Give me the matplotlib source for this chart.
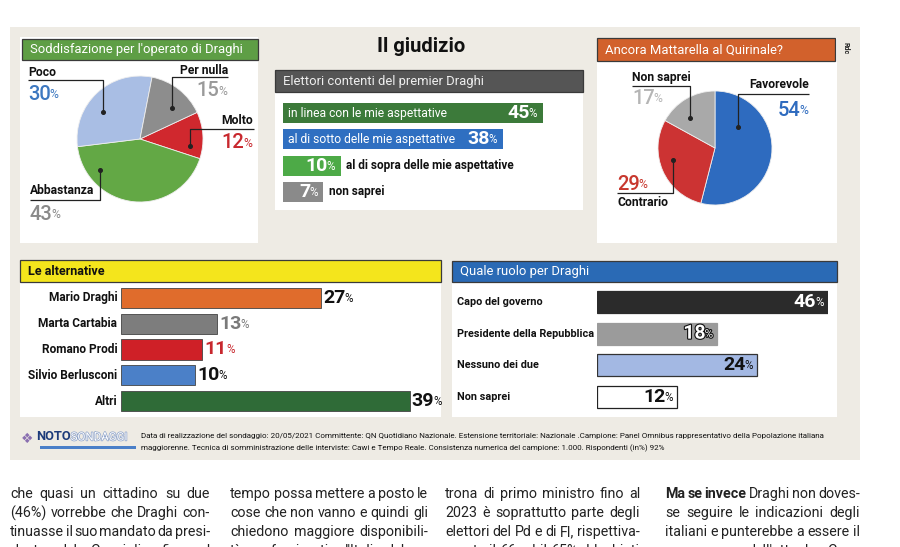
import matplotlib
matplotlib.use('Agg')
import matplotlib.pyplot as plt
import matplotlib.patheffects as pe
from matplotlib.patches import Rectangle
from matplotlib.transforms import blended_transform_factory

plt.rcParams['font.family'] = ['Roboto', 'DejaVu Sans']
NUMFONT = ['Roboto', 'DejaVu Sans']

W, H = 900, 547

# ---- dati ----
sodd_labels = ['Molto', 'Abbastanza', 'Poco', 'Per nulla']
sodd_values = [12, 43, 30, 15]
sodd_colors = ['#d0282e', '#63a845', '#a9bee4', '#8d8d8d']

contenti_labels = ['in linea con le mie aspettative', 'al di sotto delle mie aspettative',
                   'al di sopra delle mie aspettative', 'non saprei']
contenti_values = [45, 38, 10, 7]
contenti_colors = ['#3c7a3a', '#2f6fc1', '#4daa47', '#8a8a8a']

matt_labels = ['Favorevole', 'Contrario', 'Non saprei']
matt_values = [54, 29, 17]
matt_colors = ['#2e6bbf', '#cc3333', '#a9a9a9']

alt_labels = ['Mario Draghi', 'Marta Cartabia', 'Romano Prodi', 'Silvio Berlusconi', 'Altri']
alt_values = [27, 13, 11, 10, 39]
alt_colors = ['#e06c2c', '#7d7d7d', '#cf2027', '#4b80c8', '#2f6b37']
alt_text_colors = ['#111111', '#7a7a7a', '#c8282e', '#111111', '#111111']

ruolo_labels = ['Capo del governo', 'Presidente della Repubblica', 'Nessuno dei due', 'Non saprei']
ruolo_values = [46, 18, 24, 12]
ruolo_colors = ['#2b2b2b', '#9b9b9b', '#a3b8e3', '#ffffff']

note_lines = ['Data di realizzazione del sondaggio: 20/05/2021 Committente: QN Quotidiano Nazionale. '
              'Estensione territoriale: Nazionale .Campione: Panel Omnibus rappresentativo della Popolazione italiana',
              'maggiorenne. Tecnica di somministrazione delle interviste: Cawi e Tempo Reale. '
              'Consistenza numerica del campione: 1.000. Rispondenti (in%) 92%']

article = [
    ['che quasi un cittadino su due', '(46%) vorrebbe che Draghi con-',
     'tinuasse il suo mandato da presi-', 'dente del Consiglio fino al'],
    ['tempo possa mettere a posto le', 'cose che non vanno e quindi gli',
     'chiedono maggiore disponibili-', "tà per far ripartire l'Italia dal po-"],
    ['trona di primo ministro fino al', '2023 è soprattutto parte degli',
     'elettori del Pd e di FI, rispettiva-', 'mente il 66 ed il 65%. I leghisti'],
    ['Ma se invece Draghi non doves-', 'se seguire le indicazioni degli',
     'italiani e punterebbe a essere il', "successore dell'attuale Capo"],
]

fig = plt.figure(figsize=(9, 5.47), dpi=100)
fig.patch.set_facecolor('white')
base = fig.add_axes([0, 0, 1, 1])
base.set_xlim(0, W)
base.set_ylim(H, 0)
base.axis('off')


def px_axes(x0, y0, x1, y1):
    a = fig.add_axes([x0 / W, 1 - y1 / H, (x1 - x0) / W, (y1 - y0) / H])
    a.axis('off')
    return a


def box(x0, y0, x1, y1, fc, ec='none', lw=0, z=1):
    base.add_patch(Rectangle((x0, y0), x1 - x0, y1 - y0, facecolor=fc,
                             edgecolor=ec, linewidth=lw, zorder=z))


def title_bar(x0, y0, x1, y1, fc, text, tc='white', weight='normal', size=9.4):
    box(x0, y0, x1, y1, fc, ec='#3a3a3a', lw=0.9, z=3)
    base.text(x0 + 8, (y0 + y1) / 2 + 0.5, text, color=tc, fontsize=size,
              weight=weight, va='center', ha='left', zorder=4)


def pct(ax, x, y, num, size, color, ha='left', pc_color=None, weight='bold',
        xycoords='data', effects=None):
    pc_color = pc_color or color
    small = size * 0.6
    shift = -small * 0.7 if ha == 'right' else 0
    t = ax.annotate(str(num), xy=(x, y), xycoords=xycoords, xytext=(shift, 0),
                    textcoords='offset points', ha=ha, va='center', fontsize=size,
                    color=color, weight=weight, family=NUMFONT, zorder=8,
                    annotation_clip=False)
    p = ax.annotate('%', xy=(1, 0), xycoords=t, xytext=(-0.7, 1.5),
                    textcoords='offset points', ha='left', va='bottom',
                    fontsize=small, color=pc_color, family=NUMFONT, zorder=8,
                    annotation_clip=False)
    if effects:
        t.set_path_effects(effects)
        p.set_path_effects(effects)
    return t


# sfondo
box(10, 27, 860, 460, '#eeebe4', z=0)
box(20, 37, 258, 243, 'white')
box(275, 70, 583, 210, 'white')
box(597, 38, 837, 243, 'white')
box(20, 260, 441, 417, 'white')
box(452, 261, 837, 417, 'white')

title_bar(22, 39, 258, 60, '#5e9e45', "Soddisfazione per l'operato di Draghi")
title_bar(275, 70, 583, 92, '#555555', 'Elettori contenti del premier Draghi', tc='#eeeeee')
title_bar(597, 38, 835, 61, '#d2612c', 'Ancora Mattarella al Quirinale?')
title_bar(20, 260, 441, 282, '#f4e51c', 'Le alternative', tc='#111111', weight='bold', size=9)
title_bar(452, 261, 837, 282, '#2a6ab5', 'Quale ruolo per Draghi')

base.text(421, 46, 'Il giudizio', fontsize=14.5, weight='bold', ha='center', va='center', color='#111')
base.text(846, 48, 'Rdc', fontsize=5, weight='bold', rotation=270, ha='center', va='center', color='#222')
base.text(665, 4, "dell'esecutivo", fontsize=14, weight='bold', color='#2a6ab5',
          ha='left', va='bottom')

# ---- torta soddisfazione ----
ax = px_axes(140 - 63, 139 - 63, 140 + 63, 139 + 63)
ax.pie(sodd_values, colors=sodd_colors, startangle=25, counterclock=False,
       wedgeprops=dict(edgecolor='#eeeeee', linewidth=0.6))
ax.set_xlim(-1, 1)
ax.set_ylim(-1, 1)

# ---- torta Mattarella ----
ax = px_axes(715 - 57, 148 - 57, 715 + 57, 148 + 57)
ax.pie(matt_values, colors=matt_colors, startangle=90, counterclock=False,
       wedgeprops=dict(edgecolor='#eeeeee', linewidth=0.6))
ax.set_xlim(-1, 1)
ax.set_ylim(-1, 1)

# ---- barre elettori contenti ----
ax = px_axes(283, 100, 283 + 5.78 * 50, 205)
ax.set_xlim(0, 50)
ax.set_ylim(len(contenti_values) - 0.5, -0.5)
ax.barh(range(len(contenti_values)), contenti_values, height=0.76, color=contenti_colors)
for i, (lab, v) in enumerate(zip(contenti_labels, contenti_values)):
    pct(ax, v - 0.9, i, v, 14, 'white', ha='right')
    if v > 30:
        ax.text(0.9, i, lab, color='white', fontsize=8.7, va='center', ha='left')
    else:
        ax.text(v + 0.9, i, lab, color='#111', fontsize=8.5, weight='bold', va='center', ha='left')

# ---- barre alternative ----
ax = px_axes(121, 285, 121 + 7.4 * 43, 414)
ax.set_xlim(0, 43)
ax.set_ylim(len(alt_values) - 0.5, -0.5)
ax.barh(range(len(alt_values)), alt_values, height=0.78, color=alt_colors,
        edgecolor='#444444', linewidth=0.6)
for i, (lab, v) in enumerate(zip(alt_labels, alt_values)):
    ax.text(-0.5, i, lab, ha='right', va='center', fontsize=8.6, weight='bold', color='#111')
    pct(ax, v + 0.3, i, v, 14, alt_text_colors[i])

# ---- barre ruolo ----
ruolo_max = 34.6
ax = px_axes(597, 286, 597 + 6.67 * ruolo_max, 413)
ax.set_xlim(0, ruolo_max)
ax.set_ylim(len(ruolo_values) - 0.5, -0.5)
ax.barh(range(len(ruolo_values)), ruolo_values, height=0.7, color=ruolo_colors,
        edgecolor=['#2b2b2b', '#9b9b9b', '#333333', '#222222'], linewidth=0.9)
name_tr = blended_transform_factory(base.transData, ax.transData)
ruolo_txt = ['white', 'white', '#111', '#111']
for i, (lab, v) in enumerate(zip(ruolo_labels, ruolo_values)):
    ax.text(457, i, lab, transform=name_tr, ha='left', va='center', fontsize=7.8,
            weight='bold', color='#111')
    eff = [pe.withStroke(linewidth=1.6, foreground='#111')] if i == 1 else None
    pct(ax, min(v, ruolo_max) - 0.5, i, v, 14, ruolo_txt[i], ha='right', effects=eff)

# ---- livello superiore: etichette torte ----
top = fig.add_axes([0, 0, 1, 1])
top.set_zorder(10)
top.patch.set_alpha(0)
top.set_xlim(0, W)
top.set_ylim(H, 0)
top.axis('off')


def leader(pts):
    xs, ys = zip(*pts)
    top.plot(xs, ys, color='#222', lw=0.9, solid_capstyle='butt')
    top.plot(xs[-1], ys[-1], 'o', ms=2.6, color='#222')


def pie_label(x, y_name, y_num, name, num, color, ha='left'):
    top.text(x, y_name, name, ha=ha, va='center', fontsize=8.7, weight='bold', color='#111')
    pct(top, x, y_num, num, 14.5, color, ha=ha, weight='medium')


# soddisfazione
pie_label(28, 73, 94, 'Poco', sodd_values[2], '#3d78c0')
leader([(28, 80), (103, 80), (103, 112)])
pie_label(228, 70, 91, 'Per nulla', sodd_values[3], '#9a9a9a', ha='right')
leader([(228, 77), (172, 77), (172, 108)])
pie_label(253, 121, 143, 'Molto', sodd_values[0], '#c8282e', ha='right')
leader([(254, 129), (190, 129), (190, 146)])
pie_label(30, 191, 214, 'Abbastanza', sodd_values[1], '#8a8a8a')
leader([(30, 200), (100, 200), (100, 170)])

# Mattarella
pie_label(632, 78, 98, 'Non saprei', matt_values[2], '#b5b5b5')
leader([(632, 86), (690, 86), (690, 118)])
pie_label(809, 85, 110, 'Favorevole', matt_values[0], '#2e6bbf', ha='right')
leader([(809, 94), (738, 94), (738, 127)])
top.text(617, 203, 'Contrario', ha='left', va='center', fontsize=8.7, weight='bold', color='#111')
pct(top, 617, 184, matt_values[1], 14.5, '#c8382e', weight='medium')
leader([(617, 193), (673, 193), (673, 160)])

# ---- nota metodologica ----
top.text(21, 439, '\u2756', fontsize=10, color='#8a6fb0', ha='left', va='center', family=['DejaVu Sans'])
noto = top.text(36, 437, 'NOTO', fontsize=9.3, weight='bold', color='#1d3b7a',
                ha='left', va='center')
top.annotate('SONDAGGI', xy=(1, 0), xycoords=noto, ha='left', va='bottom', fontsize=8.3,
             color='white', path_effects=[pe.withStroke(linewidth=1.0, foreground='#8aa0c8')])
box(40, 446, 136, 449, '#4a7fc8', z=2)
for j, line in enumerate(note_lines):
    top.text(141, 436 + 12 * j, line, fontsize=5.8, color='#111', ha='left', va='center')

# ---- testo articolo (giustificato) ----
renderer = fig.canvas.get_renderer()
col_x = [(10, 210), (230, 428), (445, 640), (665, 860)]


def justify(x0, x1, y, words):
    texts = []
    for w, wt in words:
        texts.append(top.text(x0, y, w, fontsize=10.3, weight=wt, color='#222',
                              ha='left', va='center'))
    widths = [t.get_window_extent(renderer).width for t in texts]
    gap = (x1 - x0 - sum(widths)) / max(len(texts) - 1, 1)
    x = x0
    for t, w in zip(texts, widths):
        t.set_x(x)
        x += w + gap


for c, lines in enumerate(article):
    for j, line in enumerate(lines):
        words = [(w, 'normal') for w in line.split(' ')]
        if c == 3 and j == 0:
            words = [(w, 'bold' if k < 3 else 'normal') for k, (w, _) in enumerate(words)]
        justify(col_x[c][0], col_x[c][1], 494 + 19 * j, words)

fig.savefig('out.png', dpi=100)
